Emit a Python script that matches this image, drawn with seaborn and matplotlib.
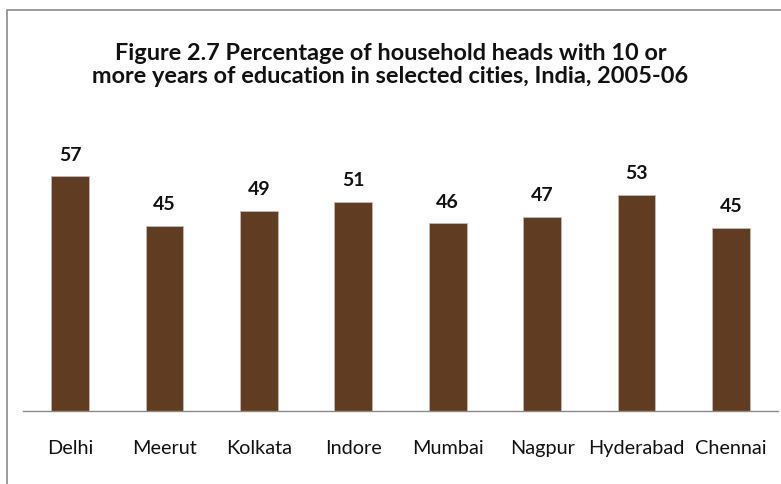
import matplotlib
matplotlib.use("Agg")
import matplotlib.pyplot as plt
from matplotlib.patches import Rectangle
import seaborn as sns
import pandas as pd

cities = ["Delhi", "Meerut", "Kolkata", "Indore", "Mumbai", "Nagpur", "Hyderabad", "Chennai"]
pct_educated = [57.0, 45.0, 48.6, 50.8, 45.6, 47.1, 52.6, 44.6]

title = ("Figure 2.7 Percentage of household heads with 10 or\n"
         "more years of education in selected cities, India, 2005-06")

sns.set_style("white")
plt.rcParams["font.family"] = ["Lato", "DejaVu Sans"]

df = pd.DataFrame({"City": cities, "Pct": pct_educated})

fig = plt.figure(figsize=(7.81, 4.85), dpi=100)
ax = fig.add_axes([23 / 781, 1 - 412.3 / 485, 755 / 781, 247.2 / 485])

sns.barplot(data=df, x="City", y="Pct", order=cities, color="#603d22",
            width=0.4, edgecolor="#c9b8ad", linewidth=0.6, saturation=1, ax=ax)

ax.set_ylim(0, 60)
ax.set_xlim(-0.5, len(cities) - 0.5)
ax.set_yticks([])
ax.set_xlabel("")
ax.set_ylabel("")
for side in ["left", "right", "top"]:
    ax.spines[side].set_visible(False)
ax.spines["bottom"].set_color("#8a8a8a")
ax.spines["bottom"].set_linewidth(1.0)

# tick marks sit between categories
ax.set_xticks([i - 0.5 for i in range(len(cities) + 1)], minor=True)
ax.tick_params(axis="x", which="minor", length=5, width=1.0, color="#8a8a8a", direction="out")
ax.tick_params(axis="x", which="major", length=0, pad=20, labelsize=14.3, labelcolor="#111111")

ax.bar_label(ax.containers[0], labels=[f"{v:.0f}" for v in pct_educated],
             padding=10, fontsize=14, fontweight="bold", color="#111111")

fig.text(0.5, 1 - 65 / 485, title, ha="center", va="center",
         fontsize=16.9, fontweight="bold", linespacing=1.1, color="#111111")

# chart frame
fig.patches.append(Rectangle((7 / 781, -0.1), 1.2, 1.1 - 11 / 485,
                             transform=fig.transFigure, fill=False,
                             edgecolor="#8a8a8a", linewidth=1.2))

fig.savefig("out.png", dpi=100)
